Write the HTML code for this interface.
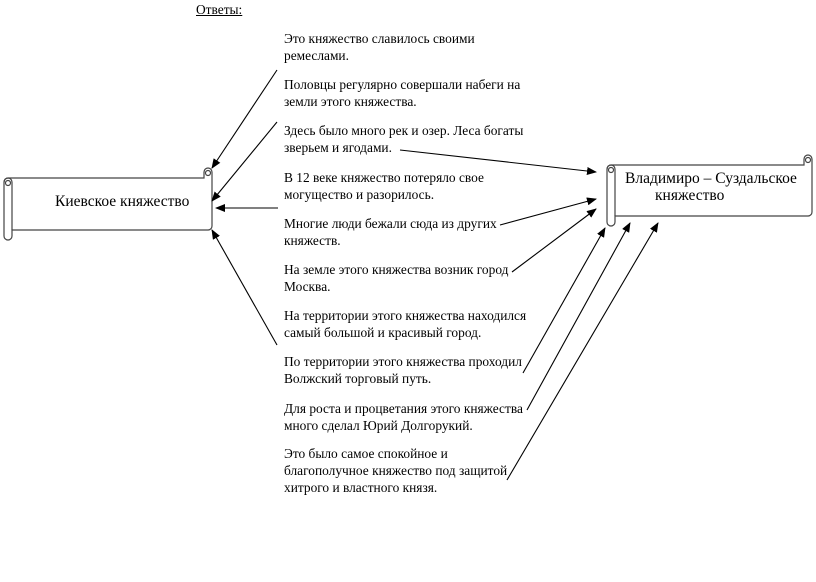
<!DOCTYPE html>
<html><head><meta charset="utf-8"><style>
body{margin:0;width:816px;height:582px;background:#fff;position:relative;overflow:hidden;font-family:"Liberation Serif",serif;color:#000}
.t{position:absolute;left:284px;font-size:13.4px;line-height:17px;white-space:nowrap}
.h{position:absolute;font-size:15.5px;white-space:nowrap}
svg{position:absolute;left:0;top:0}
</style></head><body>
<svg width="816" height="582" viewBox="0 0 816 582">
<defs><marker id="a" markerWidth="10" markerHeight="8" refX="9" refY="4" orient="auto" markerUnits="userSpaceOnUse"><path d="M0,0 L10,4 L0,8 z" fill="#000"/></marker></defs>
<g fill="#fff" stroke="#444" stroke-width="1.2">
<path d="M8,178 L204,178 L204,172 A4,4 0 0 1 212,172 L212,226 A4,4 0 0 1 208,230 L12,230 L12,236 A4,4 0 0 1 4,236 L4,182 A4,4 0 0 1 8,178 Z"/>
<path d="M4,182 A4,4 0 0 1 12,182 L12,230" fill="none"/>
<circle cx="8" cy="183" r="2.5"/>
<circle cx="208" cy="173" r="2.5"/>
<path d="M611,165 L804,165 L804,159 A4,4 0 0 1 812,159 L812,212 A4,4 0 0 1 808,216 L615,216 L615,222 A4,4 0 0 1 607,222 L607,169 A4,4 0 0 1 611,165 Z"/>
<path d="M607,169 A4,4 0 0 1 615,169 L615,216" fill="none"/>
<circle cx="611" cy="170" r="2.5"/>
<circle cx="808" cy="160" r="2.5"/>
</g>
<g stroke="#000" stroke-width="1.1" marker-end="url(#a)">
<line x1="277" y1="70" x2="212" y2="168"/>
<line x1="277" y1="122" x2="212" y2="201"/>
<line x1="278" y1="208" x2="216" y2="208"/>
<line x1="277" y1="345" x2="212" y2="230"/>
<line x1="400" y1="150" x2="596" y2="172"/>
<line x1="500" y1="225" x2="596" y2="199"/>
<line x1="512" y1="272" x2="596" y2="209"/>
<line x1="523" y1="373" x2="605" y2="228"/>
<line x1="527" y1="410" x2="630" y2="223"/>
<line x1="507" y1="480" x2="658" y2="223"/>
</g>
</svg>
<div class="h" style="left:196px;top:2px;font-size:13.4px;text-decoration:underline">Ответы:</div>
<div class="t" style="top:30px">Это княжество славилось своими<br>ремеслами.</div>
<div class="t" style="top:76px">Половцы регулярно совершали набеги на<br>земли этого княжества.</div>
<div class="t" style="top:122px">Здесь было много рек и озер. Леса богаты<br>зверьем и ягодами.</div>
<div class="t" style="top:169px">В 12 веке княжество потеряло свое<br>могущество и разорилось.</div>
<div class="t" style="top:215px">Многие люди бежали сюда из других<br>княжеств.</div>
<div class="t" style="top:261px">На земле этого княжества возник город<br>Москва.</div>
<div class="t" style="top:307px">На территории этого княжества находился<br>самый большой и красивый город.</div>
<div class="t" style="top:353px">По территории этого княжества проходил<br>Волжский торговый путь.</div>
<div class="t" style="top:400px">Для роста и процветания этого княжества<br>много сделал Юрий Долгорукий.</div>
<div class="t" style="top:445px">Это было самое спокойное и<br>благополучное княжество под защитой<br>хитрого и властного князя.</div>
<div class="h" style="left:55px;top:193px">Киевское княжество</div>
<div class="h" style="left:625px;top:170px">Владимиро – Суздальское</div>
<div class="h" style="left:655px;top:187px">княжество</div>
</body></html>
